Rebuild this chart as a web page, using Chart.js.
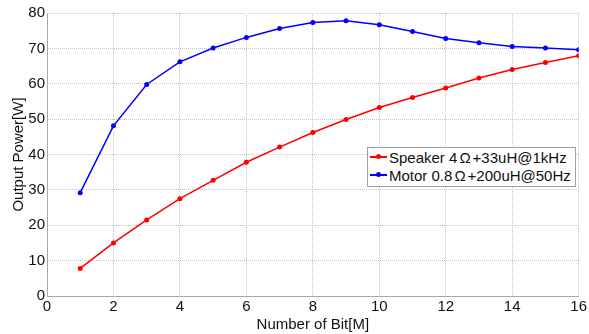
<!DOCTYPE html>
<html>
<head>
<meta charset="utf-8">
<script src="https://cdn.jsdelivr.net/npm/chart.js@4/dist/chart.umd.min.js"></script>
<style>
  html, body { margin: 0; padding: 0; background: #fff; }
  #wrap { position: relative; width: 589px; height: 334px; }
  #legend {
    position: absolute; left: 367px; top: 147px; width: 209px;
    border: 1px solid #a0a0a0; background: #fff;
    font: 15px "Liberation Sans", Arial, sans-serif; color: #111;
    padding: 1px 0 1px 0; box-sizing: border-box;
  }
  #legend div { height: 18px; line-height: 18px; white-space: nowrap; }
  #legend span.sw { display: inline-block; width: 17px; height: 2px; margin: 0 2px 4px 2px; position: relative; vertical-align: middle; }
  #legend span.sw i { position: absolute; left: 6px; top: -2px; width: 5px; height: 5px; border-radius: 50%; }
  #legend b { font-weight: normal; margin: 0 2px; }
</style>
</head>
<body>
<div id="wrap">
  <canvas id="chart" width="589" height="334"></canvas>
  <div id="legend"></div>
</div>
<script>
// x values (number of bits)
const bits = [1, 2, 3, 4, 5, 6, 7, 8, 9, 10, 11, 12, 13, 14, 15, 16];

// output power [W]
const speakerPower = [7.8, 15.0, 21.5, 27.5, 32.7, 37.8, 42.1, 46.2, 49.9, 53.3, 56.1, 58.8, 61.6, 64.0, 66.0, 67.9];
const motorPower = [29.2, 48.1, 59.8, 66.2, 70.1, 73.1, 75.6, 77.3, 77.8, 76.7, 74.8, 72.8, 71.6, 70.5, 70.1, 69.6];

const seriesNames = ["Speaker 4\u03A9+33uH@1kHz", "Motor 0.8\u03A9+200uH@50Hz"];
const seriesColors = ["#ff0000", "#0000ff"];

const xTicks = [0, 2, 4, 6, 8, 10, 12, 14, 16];
const yTicks = [0, 10, 20, 30, 40, 50, 60, 70, 80];

const FONT = "'Liberation Sans', Arial, sans-serif";

function toPoints(values) {
  return bits.map((b, i) => ({ x: b, y: values[i] }));
}

const datasets = [speakerPower, motorPower].map((vals, i) => ({
  label: seriesNames[i],
  data: toPoints(vals),
  borderColor: seriesColors[i],
  backgroundColor: seriesColors[i],
  borderWidth: 1.5,
  pointRadius: 2.5,
  pointHoverRadius: 2.5,
  pointBorderWidth: 0,
  tension: 0,
  fill: false,
}));

new Chart(document.getElementById("chart").getContext("2d"), {
  type: "line",
  data: { datasets },
  options: {
    responsive: false,
    animation: false,
    layout: { padding: { top: 13, right: 8, left: 0, bottom: 0 } },
    plugins: {
      legend: { display: false },
      tooltip: { enabled: false },
    },
    scales: {
      x: {
        type: "linear",
        min: 0,
        max: 16,
        afterBuildTicks: (axis) => { axis.ticks = xTicks.map((v) => ({ value: v })); },
        afterFit: (axis) => { axis.height = 38; },
        grid: { color: "#c4c4c4", lineWidth: 1, drawTicks: false },
        border: { color: "#a8a8a8", dash: [1, 1] }, // dash applies to grid lines in v4
        ticks: { color: "#111", font: { family: FONT, size: 15 }, padding: 2, maxRotation: 0 },
        title: { display: true, text: "Number of Bit[M]", color: "#111", font: { family: FONT, size: 15 }, padding: { top: -3, bottom: 0 } },
      },
      y: {
        min: 0,
        max: 80,
        afterBuildTicks: (axis) => { axis.ticks = yTicks.map((v) => ({ value: v })); },
        afterFit: (axis) => { axis.width = 47; },
        grid: { color: "#c4c4c4", lineWidth: 1, drawTicks: false },
        border: { color: "#a8a8a8", dash: [1, 1] },
        ticks: { color: "#111", font: { family: FONT, size: 15 }, padding: 2 },
        title: { display: true, text: "Output Power[W]", color: "#111", font: { family: FONT, size: 15 }, padding: { top: 10, bottom: 0 } },
      },
    },
  },
});

// legend overlay, with a little room round the omega like the original
const legend = document.getElementById("legend");
seriesNames.forEach((name, i) => {
  const row = document.createElement("div");
  const text = name.replace("\u03A9", "<b>\u03A9</b>");
  row.innerHTML = '<span class="sw" style="background:' + seriesColors[i] + '"><i style="background:' + seriesColors[i] + '"></i></span>' + text;
  legend.appendChild(row);
});
</script>
</body>
</html>
